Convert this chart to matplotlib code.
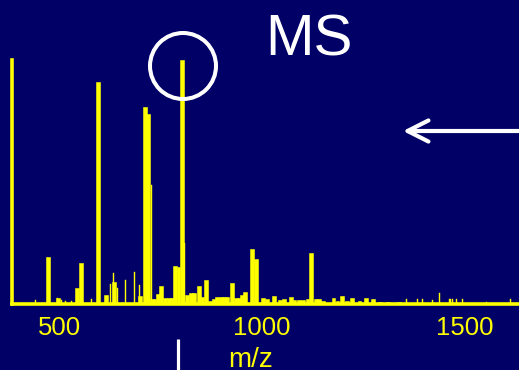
import matplotlib
matplotlib.use("Agg")
import matplotlib.pyplot as plt
from matplotlib.patches import Ellipse, FancyArrowPatch, ArrowStyle
from matplotlib.lines import Line2D

plt.rcParams['font.family'] = ['Liberation Sans', 'DejaVu Sans']

NAVY = '#000066'
YELLOW = '#ffff00'
WHITE = '#ffffff'

# Dominant ions (relative intensity)
major_mz = [472, 554, 595, 711, 720, 803, 976, 986, 1121]
major_int = [0.193, 0.168, 0.91, 0.807, 0.779, 1.0, 0.225, 0.184, 0.209]

# Broader low-level clusters
minor_mz = [497, 545, 616, 636, 700, 728, 735, 743, 751, 760, 770, 778, 785,
            794, 815, 824, 832, 845, 853, 862, 872, 882, 890, 898, 906, 914,
            926, 936, 944, 950, 957, 1002, 1012, 1030, 1045, 1055, 1072, 1080,
            1090, 1100, 1112, 1132, 1140, 1150, 1176, 1186, 1196, 1210, 1222,
            1240, 1256, 1274, 1290, 1310, 1338]
minor_int = [0.025, 0.066, 0.037, 0.09, 0.033, 0.02, 0.02, 0.041, 0.074,
             0.025, 0.025, 0.025, 0.156, 0.152, 0.037, 0.045, 0.045, 0.074,
             0.029, 0.098, 0.012, 0.02, 0.029, 0.029, 0.029, 0.029, 0.086,
             0.025, 0.025, 0.037, 0.049, 0.025, 0.02, 0.033, 0.016, 0.02,
             0.029, 0.016, 0.016, 0.016, 0.02, 0.02, 0.02, 0.012, 0.025,
             0.012, 0.033, 0.012, 0.025, 0.012, 0.025, 0.02, 0.01, 0.01,
             0.008]

# Narrow spikes
spike_mz = [443, 497, 505, 515, 530, 580, 626, 635, 645, 663, 685, 697, 727,
            808, 1357, 1384, 1396, 1421, 1436, 1463, 1470, 1480, 1495, 1552,
            1613]
spike_int = [0.016, 0.025, 0.016, 0.012, 0.012, 0.02, 0.082, 0.127, 0.066,
             0.10, 0.13, 0.078, 0.488, 0.25, 0.02, 0.02, 0.02, 0.016, 0.045,
             0.02, 0.02, 0.02, 0.02, 0.01, 0.02]

tick_values = [500, 1000, 1500]
tick_labels = ['500', '1000', '1500']

W, H = 519, 370
fig = plt.figure(figsize=(W / 100, H / 100), dpi=100, facecolor=NAVY)


def fx(px):
    return px / W


def fy(py):
    return 1 - py / H


ax = fig.add_axes([fx(12), fy(304), fx(519) - fx(12), fy(60) - fy(304)])
ax.set_facecolor(NAVY)
ax.set_xlim(384, 1633)
ax.set_ylim(0, 1.0)

ax.bar(minor_mz, minor_int, width=9.5, color=YELLOW, edgecolor=YELLOW,
       linewidth=0.4)
ax.bar(spike_mz, spike_int, width=2.5, color=YELLOW, edgecolor=YELLOW,
       linewidth=0.3)
ax.bar(major_mz, major_int, width=9.5, color=YELLOW, edgecolor=YELLOW,
       linewidth=0.4)

for side in ('top', 'right'):
    ax.spines[side].set_visible(False)
for side in ('left', 'bottom'):
    ax.spines[side].set_color(YELLOW)
    ax.spines[side].set_linewidth(2.6)
    ax.spines[side].set_capstyle('projecting')

ax.set_xticks(tick_values)
ax.set_xticklabels(tick_labels)
ax.tick_params(axis='x', length=0, pad=8.5, labelsize=18.5, labelcolor=YELLOW)
ax.set_yticks([])

fig.text(fx(251), fy(367), 'm/z', color=YELLOW, fontsize=20,
         ha='center', va='baseline')
fig.text(fx(309), fy(55), 'MS', color=WHITE, fontsize=42,
         ha='center', va='baseline')

# Circle highlighting the base peak
fig.add_artist(Ellipse((fx(183), fy(66)), width=2 * 33 / W, height=2 * 33 / H,
                       transform=fig.transFigure, fill=False,
                       edgecolor=WHITE, linewidth=2.9))

# Arrow pointing left
arrow = FancyArrowPatch((fx(525), fy(131)), (fx(403), fy(131)),
                        transform=fig.transFigure,
                        arrowstyle=ArrowStyle('->', head_length=0.75,
                                              head_width=0.38),
                        mutation_scale=20, color=WHITE, linewidth=3,
                        capstyle='round', joinstyle='round',
                        shrinkA=0, shrinkB=0)
fig.add_artist(arrow)

# Short vertical marker under the axis
fig.add_artist(Line2D([fx(178), fx(178)], [fy(339), fy(372)],
                      transform=fig.transFigure, color=WHITE, linewidth=2.3,
                      solid_capstyle='butt'))

fig.savefig('out.png', dpi=100, facecolor=NAVY)
